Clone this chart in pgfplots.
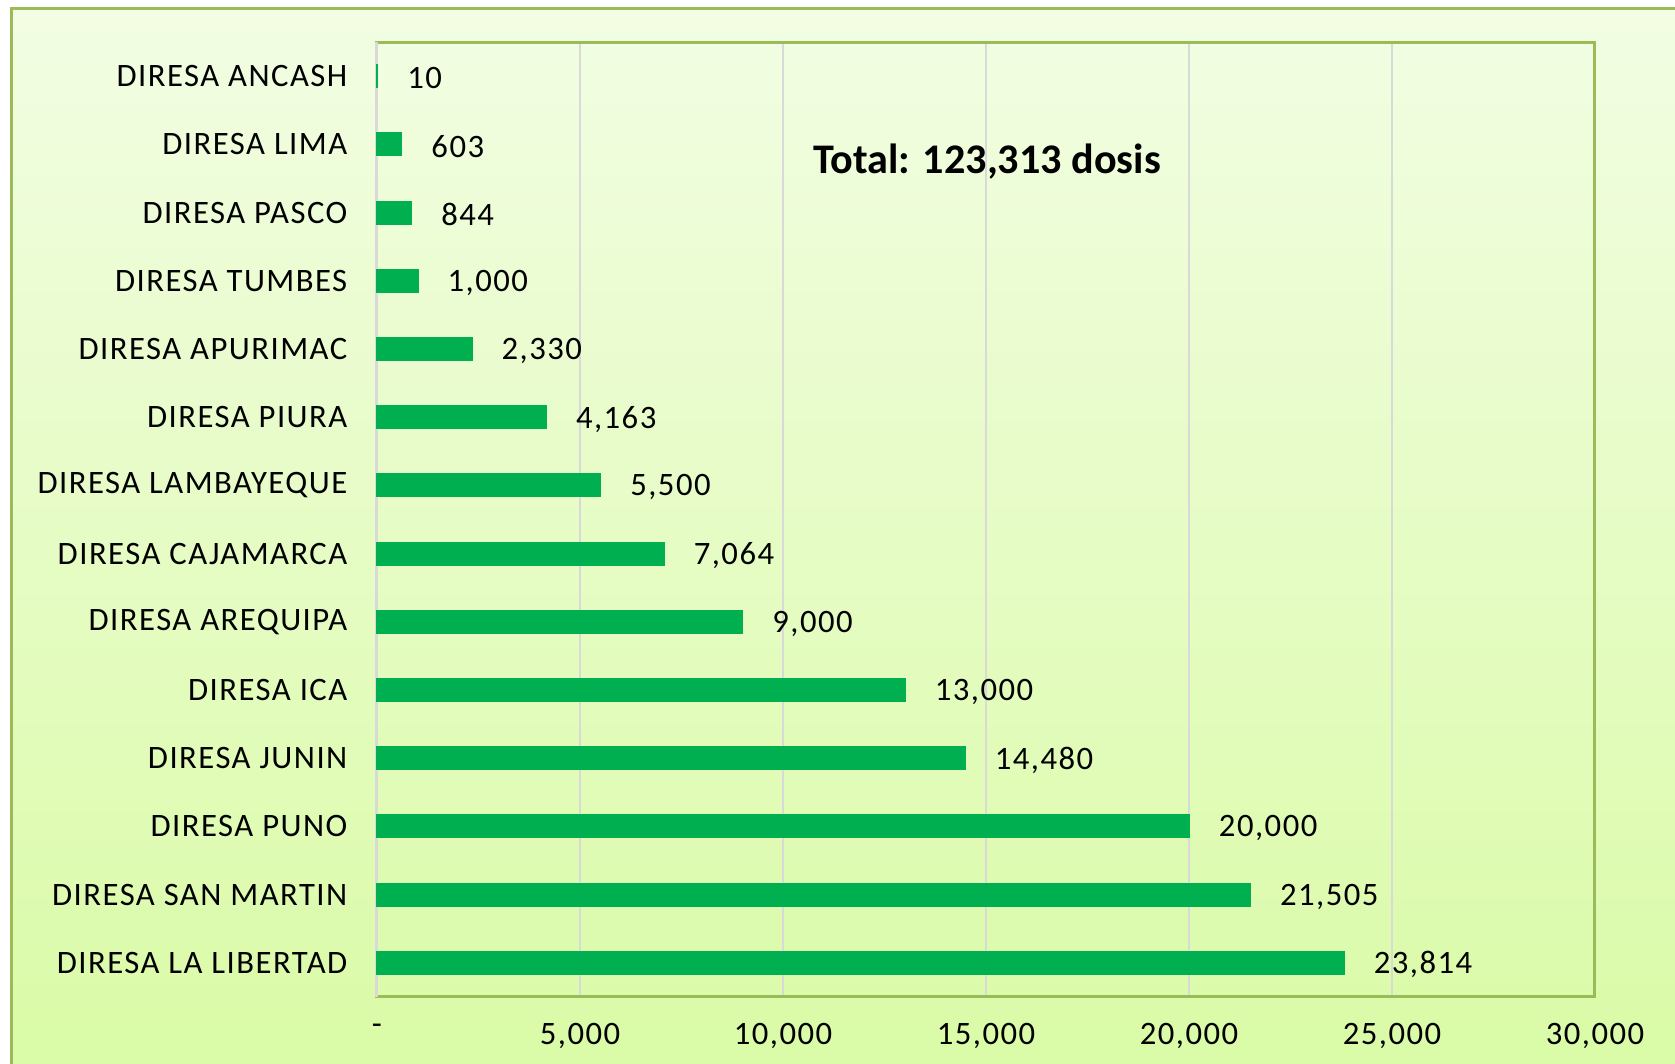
\documentclass[border=0pt]{standalone}
\usepackage{pgfplots}
\pgfplotsset{compat=1.18}
\usepackage{fontspec}
\setmainfont{Carlito}
\newfontfamily\lsfont[LetterSpace=4.5]{Carlito}
\definecolor{bargreen}{HTML}{00B050}
\definecolor{framegreen}{HTML}{9BBB59}
\definecolor{gridgray}{HTML}{D9D9D9}
\definecolor{bgtop}{HTML}{F2FDE3}
\definecolor{bgbot}{HTML}{D9FBA5}
\begin{document}
\begin{tikzpicture}[x=0.1mm,y=0.1mm]
\useasboundingbox (0,0) rectangle (1675,1064);
\clip (0,0) rectangle (1675,1064);
\shade[top color=bgtop,bottom color=bgbot] (11.5,-30) rectangle (1710,1055.5);
\draw[framegreen, line width=0.35mm] (11.5,-30) rectangle (1710,1055.5);
\begin{axis}[
  at={(37.7mm,6.7mm)}, anchor=south west,
  scale only axis, width=121.8mm, height=95.5mm,
  xbar, xmin=0, xmax=30000, ymin=-0.5, ymax=13.5,
  bar width=2.2mm,
  xtick={0,5000,10000,15000,20000,25000,30000},
  xticklabels={-,{5,000},{10,000},{15,000},{20,000},{25,000},{30,000}},
  ytick={0,1,2,3,4,5,6,7,8,9,10,11,12,13},
  yticklabels={DIRESA LA LIBERTAD,DIRESA SAN MARTIN,DIRESA PUNO,DIRESA JUNIN,DIRESA ICA,DIRESA AREQUIPA,DIRESA CAJAMARCA,DIRESA LAMBAYEQUE,DIRESA PIURA,DIRESA APURIMAC,DIRESA TUMBES,DIRESA PASCO,DIRESA LIMA,DIRESA ANCASH},
  xmajorgrids, major grid style={gridgray, line width=0.27mm},
  major tick length=0pt,
  axis line style={framegreen, line width=0.3mm},
  tick label style={font=\lsfont\fontsize{9.3}{11}\selectfont, inner sep=0pt, black},
  xticklabel style={yshift=-2.6mm},
  yticklabel style={xshift=-2.9mm},
  /pgf/number format/assume math mode=true,
  point meta=x,
  nodes near coords={\pgfmathprintnumber[1000 sep={,}, fixed, precision=0]{\pgfplotspointmeta}},
  every node near coord/.append style={font=\lsfont\fontsize{9.3}{11}\selectfont, inner sep=0pt, xshift=2.9mm, yshift=-0.2mm, black},
  clip=false,
]
\draw[gridgray, line width=0.3mm] (axis cs:0,-0.5) -- (axis cs:0,13.5);
\addplot[fill=bargreen, draw=bargreen, line width=0.2mm] coordinates {
(23814,0) (21505,1) (20000,2) (14480,3) (13000,4) (9000,5) (7064,6)
(5500,7) (4163,8) (2330,9) (1000,10) (844,11) (603,12) (10,13)};
\end{axis}
\node[font=\fontsize{12}{14}\selectfont\bfseries] at (987,902) {Total: 123,313 dosis};
\end{tikzpicture}
\end{document}
